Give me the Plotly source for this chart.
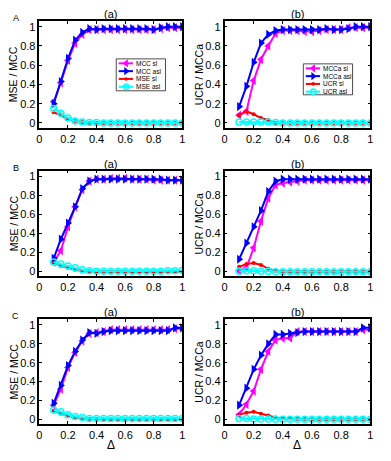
import plotly.graph_objects as go

# shared x values (Delta)
delta = [0.1, 0.15, 0.2, 0.25, 0.3, 0.35, 0.4, 0.45, 0.5, 0.55,
         0.6, 0.65, 0.7, 0.75, 0.8, 0.85, 0.9, 0.95, 1.0]

# row A
a_mcc_sl = [0.22, 0.42, 0.65, 0.83, 0.92, 0.97, 0.97, 0.97, 0.97, 0.97,
            0.97, 0.97, 0.97, 0.97, 0.97, 0.98, 0.99, 0.99, 0.99]
a_mcc_asl = [0.20, 0.43, 0.67, 0.86, 0.94, 0.98, 0.97, 0.98, 0.98, 0.98,
             0.98, 0.98, 0.98, 0.98, 0.97, 0.99, 1.0, 1.0, 1.0]
a_mse_sl = [0.11, 0.08, 0.04, 0.02, 0.01, 0.0, 0.0, 0.0, 0.0, 0.0,
            0.0, 0.0, 0.0, 0.0, 0.0, 0.0, 0.0, 0.0, 0.0]
a_mse_asl = [0.15, 0.10, 0.05, 0.02, 0.01, 0.005, 0.005, 0.0, 0.0, 0.0,
             0.0, 0.0, 0.0, 0.0, 0.0, 0.0, 0.0, 0.0, 0.0]
a_mcca_sl = [0.08, 0.12, 0.44, 0.66, 0.80, 0.93, 0.96, 0.96, 0.96, 0.95,
             0.95, 0.96, 0.97, 0.97, 0.97, 0.99, 0.99, 0.99, 0.99]
a_mcca_asl = [0.17, 0.38, 0.63, 0.83, 0.92, 0.96, 0.97, 0.97, 0.97, 0.97,
              0.97, 0.97, 0.98, 0.97, 0.97, 0.98, 1.0, 1.0, 1.0]
a_ucr_sl = [0.08, 0.12, 0.09, 0.05, 0.03, 0.0, 0.0, 0.0, 0.0, 0.0,
            0.0, 0.0, 0.0, 0.0, 0.0, 0.0, 0.0, 0.0, 0.0]
a_ucr_asl = [0.01, 0.01, 0.01, 0.01, 0.01, 0.005, 0.0, 0.0, 0.0, 0.0,
             0.0, 0.0, 0.0, 0.0, 0.0, 0.0, 0.0, 0.0, 0.0]

# row B
b_mcc_sl = [0.10, 0.22, 0.47, 0.68, 0.86, 0.95, 0.97, 0.97, 0.98, 0.98,
            0.98, 0.97, 0.97, 0.97, 0.96, 0.96, 0.96, 0.96, 0.96]
b_mcc_asl = [0.14, 0.34, 0.51, 0.68, 0.87, 0.95, 0.97, 0.97, 0.97, 0.97,
             0.97, 0.97, 0.97, 0.97, 0.97, 0.97, 0.96, 0.96, 0.96]
b_mse_sl = [0.09, 0.06, 0.04, 0.02, 0.01, 0.005, 0.0, 0.0, 0.0, 0.0,
            0.0, 0.0, 0.0, 0.0, 0.0, 0.0, 0.0, 0.0, 0.0]
b_mse_asl = [0.10, 0.08, 0.06, 0.04, 0.02, 0.01, 0.005, 0.005, 0.005, 0.005,
             0.005, 0.005, 0.005, 0.005, 0.005, 0.005, 0.01, 0.01, 0.015]
b_mcca_sl = [0.01, 0.04, 0.25, 0.53, 0.77, 0.91, 0.93, 0.94, 0.95, 0.96,
             0.96, 0.96, 0.96, 0.96, 0.96, 0.96, 0.96, 0.96, 0.96]
b_mcca_asl = [0.13, 0.30, 0.47, 0.64, 0.84, 0.95, 0.97, 0.97, 0.97, 0.97,
              0.97, 0.97, 0.97, 0.97, 0.97, 0.97, 0.97, 0.97, 0.97]
b_ucr_sl = [0.05, 0.08, 0.09, 0.07, 0.03, 0.01, 0.0, 0.0, 0.0, 0.0,
            0.0, 0.0, 0.0, 0.0, 0.0, 0.0, 0.0, 0.0, 0.0]
b_ucr_asl = [0.005, 0.01, 0.01, 0.005, 0.005, 0.0, 0.0, 0.0, 0.0, 0.0,
             0.0, 0.0, 0.0, 0.0, 0.0, 0.0, 0.0, 0.0, 0.0]

# row C
c_mcc_sl = [0.15, 0.32, 0.55, 0.71, 0.83, 0.91, 0.92, 0.93, 0.95, 0.95,
            0.95, 0.95, 0.95, 0.95, 0.95, 0.95, 0.95, 0.96, 0.96]
c_mcc_asl = [0.17, 0.36, 0.57, 0.72, 0.84, 0.92, 0.91, 0.93, 0.94, 0.94,
             0.94, 0.94, 0.94, 0.94, 0.94, 0.94, 0.94, 0.97, 0.97]
c_mse_sl = [0.09, 0.06, 0.04, 0.02, 0.01, 0.005, 0.005, 0.0, 0.0, 0.0,
            0.0, 0.0, 0.0, 0.0, 0.0, 0.0, 0.0, 0.0, 0.0]
c_mse_asl = [0.10, 0.08, 0.05, 0.03, 0.02, 0.01, 0.01, 0.01, 0.01, 0.01,
             0.01, 0.01, 0.01, 0.01, 0.01, 0.01, 0.01, 0.01, 0.01]
c_mcca_sl = [0.05, 0.16, 0.30, 0.53, 0.72, 0.84, 0.86, 0.86, 0.93, 0.93,
             0.93, 0.93, 0.93, 0.93, 0.93, 0.93, 0.93, 0.95, 0.95]
c_mcca_asl = [0.15, 0.33, 0.53, 0.68, 0.80, 0.90, 0.90, 0.91, 0.92, 0.93,
              0.93, 0.93, 0.93, 0.93, 0.93, 0.93, 0.93, 0.97, 0.97]
c_ucr_sl = [0.05, 0.07, 0.08, 0.06, 0.04, 0.02, 0.01, 0.01, 0.005, 0.005,
            0.0, 0.0, 0.0, 0.0, 0.0, 0.0, 0.0, 0.0, 0.0]
c_ucr_asl = [0.01, 0.01, 0.005, 0.005, 0.005, 0.0, 0.0, 0.0, 0.0, 0.0,
             0.0, 0.0, 0.0, 0.0, 0.0, 0.0, 0.0, 0.0, 0.0]

names_left = ["MCC sl", "MCC asl", "MSE sl", "MSE asl"]
names_right = ["MCCa sl", "MCCa asl", "UCR sl", "UCR asl"]

W, H = 391, 461
FONT = "Liberation Sans, Arial, sans-serif"

# pixel boxes of the axes
col_px = [(37, 182), (225, 373)]
row_px = [(21, 128), (171, 277), (320, 425)]

panels = [
    ("A", [a_mcc_sl, a_mcc_asl, a_mse_sl, a_mse_asl], [a_mcca_sl, a_mcca_asl, a_ucr_sl, a_ucr_asl]),
    ("B", [b_mcc_sl, b_mcc_asl, b_mse_sl, b_mse_asl], [b_mcca_sl, b_mcca_asl, b_ucr_sl, b_ucr_asl]),
    ("C", [c_mcc_sl, c_mcc_asl, c_mse_sl, c_mse_asl], [c_mcca_sl, c_mcca_asl, c_ucr_sl, c_ucr_asl]),
]

styles = [
    dict(color="#ff00ff", symbol="triangle-left", size=8, lw=0),
    dict(color="#0000ff", symbol="triangle-right", size=8, lw=0),
    dict(color="#ff0000", symbol="circle", size=4, lw=0),
    dict(color="#00ffff", symbol="circle-open", size=6, lw=1.5),
]


def marker_of(st, scale=1.0):
    return dict(symbol=st["symbol"], size=st["size"] * scale, color=st["color"],
                line=dict(width=st["lw"], color=st["color"]))


def label(text, px, py, size, **kw):
    d = dict(text=text, x=px / W, y=1 - py / H, xref="paper", yref="paper",
             showarrow=False, xanchor="center", yanchor="middle",
             font=dict(size=size, color="black", family=FONT))
    d.update(kw)
    return d


fig = go.Figure()
annotations = []
ticks01 = [0, 0.2, 0.4, 0.6, 0.8, 1.0]
ticktxt = ["0", "0.2", "0.4", "0.6", "0.8", "1"]
n = 0
for r, (letter, left_series, right_series) in enumerate(panels):
    y0, y1 = row_px[r]
    for c, (series, ytitle, ptitle) in enumerate([
            (left_series, "MSE / MCC", "(a)"),
            (right_series, "UCR / MCCa", "(b)")]):
        n += 1
        xa = "x" if n == 1 else f"x{n}"
        ya = "y" if n == 1 else f"y{n}"
        for k, vals in enumerate(series):
            st = styles[k]
            fig.add_trace(go.Scatter(
                x=delta, y=vals, mode="lines+markers", xaxis=xa, yaxis=ya,
                line=dict(color=st["color"], width=2),
                marker=marker_of(st), showlegend=False,
            ))
        x0, x1 = col_px[c]
        xkey = "xaxis" if n == 1 else f"xaxis{n}"
        ykey = "yaxis" if n == 1 else f"yaxis{n}"
        axis_common = dict(showline=True, linecolor="black", linewidth=1.5, mirror="ticks",
                           ticks="inside", ticklen=3, tickcolor="black", showgrid=False,
                           zeroline=False, tickvals=ticks01, ticktext=ticktxt,
                           tickfont=dict(size=11, color="black", family=FONT))
        fig.update_layout({
            xkey: dict(domain=[x0 / W, x1 / W], anchor=ya, range=[0, 1.0], **axis_common),
            ykey: dict(domain=[1 - y1 / H, 1 - y0 / H], anchor=xa, range=[-0.05, 1.06],
                       **axis_common),
        })
        annotations.append(label(ptitle, (x0 + x1) / 2, y0 - 7, 11))
        annotations.append(label(ytitle, x0 - 26, (y0 + y1) / 2, 10.5, textangle=-90))
        if r == 2:
            annotations.append(label("Δ", (x0 + x1) / 2, 446, 12))
    annotations.append(label(letter, 13, y0 - 3, 9))

# hand-drawn MATLAB-style legends on a pixel overlay axis
fig.update_layout(
    xaxis7=dict(domain=[0, 1], range=[0, W], visible=False, fixedrange=True, anchor="y7"),
    yaxis7=dict(domain=[0, 1], range=[H, 0], visible=False, fixedrange=True, anchor="x7"),
)
legend_boxes = [(115, 165, 59, 91, names_left), (305, 355, 64, 95, names_right)]
for bx0, bx1, by0, by1, names in legend_boxes:
    fig.add_trace(go.Scatter(
        x=[bx0, bx1, bx1, bx0, bx0], y=[by0, by0, by1, by1, by0], mode="lines",
        fill="toself", fillcolor="white", line=dict(color="black", width=0.7),
        xaxis="x7", yaxis="y7", showlegend=False, hoverinfo="skip"))
    for k, name in enumerate(names):
        st = styles[k]
        ry = by0 + 4.5 + k * 7.8
        fig.add_trace(go.Scatter(
            x=[bx0 + 2.5, bx0 + 17], y=[ry, ry], mode="lines",
            line=dict(color=st["color"], width=2),
            xaxis="x7", yaxis="y7", showlegend=False, hoverinfo="skip"))
        fig.add_trace(go.Scatter(
            x=[bx0 + 10], y=[ry], mode="markers", marker=marker_of(st, 0.9),
            xaxis="x7", yaxis="y7", showlegend=False, hoverinfo="skip"))
        annotations.append(label(name, bx0 + 18, ry, 6.5, xanchor="left"))

fig.update_layout(
    width=W, height=H,
    margin=dict(l=0, r=0, t=0, b=0),
    plot_bgcolor="rgba(0,0,0,0)", paper_bgcolor="white",
    font=dict(family=FONT, color="black"),
    annotations=annotations,
    showlegend=False,
)

fig.write_html("out.html", config={"displayModeBar": False},
               post_script="document.body.style.margin='0';")
